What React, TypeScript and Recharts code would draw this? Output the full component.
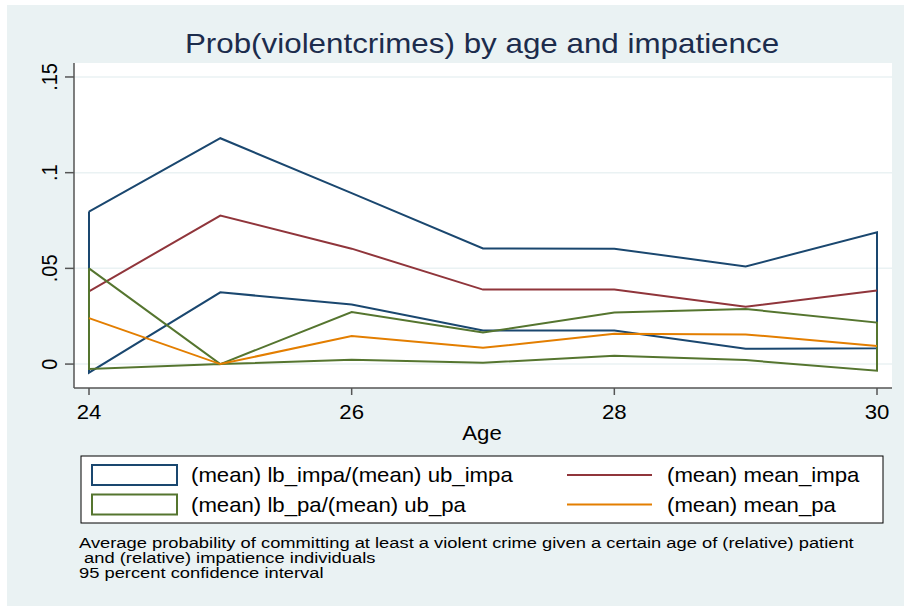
import { LineChart, Line, XAxis, YAxis, CartesianGrid } from "recharts";

const ages = [24, 25, 26, 27, 28, 29, 30];
const ubImpa = [0.0797, 0.118, 0.0893, 0.0604, 0.0603, 0.051, 0.0689];
const lbImpa = [-0.0045, 0.0375, 0.0311, 0.0175, 0.0175, 0.008, 0.0083];
const meanImpa = [0.038, 0.0776, 0.0603, 0.0389, 0.039, 0.0299, 0.0385];
const ubPa = [0.05, 0.0, 0.0272, 0.0165, 0.0269, 0.0288, 0.0217];
const lbPa = [-0.0026, 0.0, 0.0022, 0.0007, 0.0043, 0.0021, -0.0035];
const meanPa = [0.024, 0.0, 0.0147, 0.0085, 0.0158, 0.0155, 0.0094];

const xTicks = [24, 26, 28, 30];
const yTicks = [0, 0.05, 0.1, 0.15];
const yTickLabels = ["0", ".05", ".1", ".15"];

const legendItems = [
  { label: "(mean) lb_impa/(mean) ub_impa", color: "#1a476f", kind: "box" },
  { label: "(mean) mean_impa", color: "#90353b", kind: "line" },
  { label: "(mean) lb_pa/(mean) ub_pa", color: "#55752f", kind: "box" },
  { label: "(mean) mean_pa", color: "#e37e00", kind: "line" },
];

const noteLines = [
  "Average probability of committing at least a violent crime given a certain age of (relative) patient",
  " and (relative) impatience individuals",
  "95 percent confidence interval",
];

const FONT = "'Liberation Sans', Arial, sans-serif";
const SX = 1.11;

// closed outline: upper bound forward, lower bound back, then close
function outline(ub: number[], lb: number[]) {
  const pts = ages.map((a, i) => ({ age: a, v: ub[i] }));
  for (let i = ages.length - 1; i >= 0; i--) pts.push({ age: ages[i], v: lb[i] });
  pts.push({ age: ages[0], v: ub[0] });
  return pts;
}

const series = (vals: number[]) => ages.map((a, i) => ({ age: a, v: vals[i] }));

function XTick({ x, y, payload }: any) {
  return (
    <g transform={`translate(${x},${y}) scale(${SX},1)`}>
      <text x={0} y={0} dy="0.71em" textAnchor="middle" fontSize={20} fill="#000" fontFamily={FONT}>
        {payload.value}
      </text>
    </g>
  );
}

function YTick({ x, y, payload }: any) {
  const idx = yTicks.indexOf(payload.value);
  return (
    <g transform={`translate(${x},${y}) scale(${SX},1) rotate(-90)`}>
      <text x={0} y={0} textAnchor="middle" fontSize={20} fill="#000" fontFamily={FONT}>
        {idx >= 0 ? yTickLabels[idx] : payload.value}
      </text>
    </g>
  );
}

export default function App() {
  return (
    <div style={{ position: "fixed", left: 0, top: 0, width: 904, height: 606, background: "#fff" }}>
      <div style={{ position: "absolute", left: 7, top: 5, width: 897, height: 601, background: "#eaf2f3" }} />
      <div style={{ position: "absolute", left: 0, top: 0 }}>
        <LineChart width={904} height={440} margin={{ top: 63, right: 12, left: 14, bottom: 22 }}>
          <CartesianGrid vertical={false} stroke="#eaf2f3" strokeWidth={1.5} fill="#fff" horizontalValues={yTicks} />
          <XAxis
            type="number"
            dataKey="age"
            domain={[24, 30]}
            ticks={xTicks}
            padding={{ left: 15, right: 15 }}
            height={30}
            tickSize={7}
            tickMargin={10}
            tick={<XTick />}
            axisLine={{ stroke: "#555", strokeWidth: 1.5 }}
            tickLine={{ stroke: "#555", strokeWidth: 1.5 }}
            allowDuplicatedCategory={false}
          />
          <YAxis
            type="number"
            dataKey="v"
            domain={[-0.0125, 0.1573]}
            allowDataOverflow
            ticks={yTicks}
            width={60}
            tickSize={9}
            tickMargin={8}
            tick={<YTick />}
            axisLine={{ stroke: "#555", strokeWidth: 1.5 }}
            tickLine={{ stroke: "#555", strokeWidth: 1.5 }}
          />
          <Line data={outline(ubImpa, lbImpa)} dataKey="v" stroke="#1a476f" strokeWidth={2} dot={false} isAnimationActive={false} type="linear" />
          <Line data={series(meanImpa)} dataKey="v" stroke="#90353b" strokeWidth={2} dot={false} isAnimationActive={false} type="linear" />
          <Line data={outline(ubPa, lbPa)} dataKey="v" stroke="#55752f" strokeWidth={2} dot={false} isAnimationActive={false} type="linear" />
          <Line data={series(meanPa)} dataKey="v" stroke="#e37e00" strokeWidth={2} dot={false} isAnimationActive={false} type="linear" />
        </LineChart>
      </div>
      <svg width={904} height={606} style={{ position: "absolute", left: 0, top: 0, pointerEvents: "none" }} fontFamily={FONT}>
        <g transform={`translate(482,53) scale(1.12,1)`}>
          <text textAnchor="middle" fontSize={28} fill="#1c2c4c">Prob(violentcrimes) by age and impatience</text>
        </g>
        <g transform={`translate(482,440) scale(${SX},1)`}>
          <text textAnchor="middle" fontSize={20} fill="#000">Age</text>
        </g>
        <rect x={81} y={456} width={802} height={67} fill="#fff" stroke="#000" strokeWidth={1} />
        {legendItems.map((it, i) => {
          const col = i % 2;
          const row = Math.floor(i / 2);
          const cy = 475 + row * 29.5;
          const kx = col === 0 ? 92 : 567;
          const tx = col === 0 ? 191 : 667;
          return (
            <g key={it.label}>
              {it.kind === "box" ? (
                <rect x={kx} y={cy - 10} width={85} height={20} fill="#fff" stroke={it.color} strokeWidth={2} />
              ) : (
                <line x1={kx} x2={kx + 85} y1={cy} y2={cy} stroke={it.color} strokeWidth={2} />
              )}
              <g transform={`translate(${tx},${cy + 7}) scale(${SX},1)`}>
                <text fontSize={20} fill="#000">{it.label}</text>
              </g>
            </g>
          );
        })}
        {noteLines.map((t, i) => (
          <g key={i} transform={`translate(79,${548 + i * 15}) scale(1.265,1)`}>
            <text fontSize={14.5} fill="#000" style={{ whiteSpace: "pre" }}>{t}</text>
          </g>
        ))}
      </svg>
    </div>
  );
}
